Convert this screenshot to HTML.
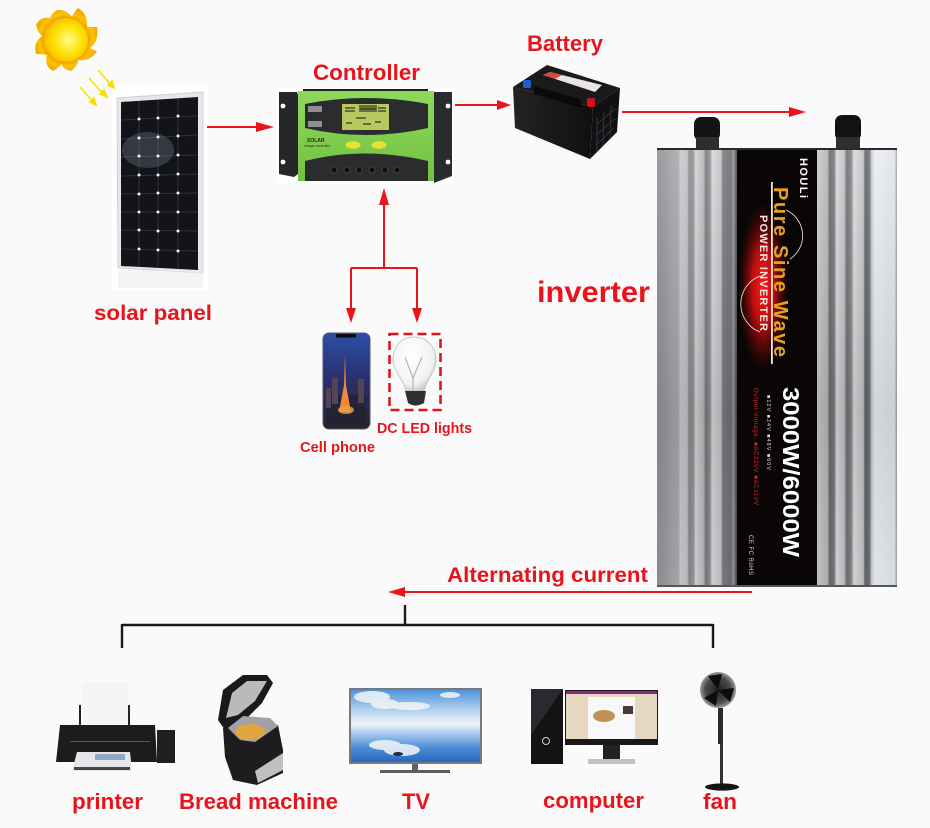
<!DOCTYPE html>
<html><head><meta charset="utf-8"><style>
html,body{margin:0;padding:0;background:#fafafa}
svg{display:block}
.l{font-family:"Liberation Sans",sans-serif;font-weight:700;fill:#e8141c}
.r{font-family:"Liberation Sans",sans-serif}
</style></head><body>
<svg width="930" height="828" viewBox="0 0 930 828" xmlns="http://www.w3.org/2000/svg">
<defs>
<radialGradient id="sun" cx=".55" cy=".5" r=".62"><stop offset="0" stop-color="#fffa8c"/><stop offset=".55" stop-color="#fde000"/><stop offset="1" stop-color="#f4ae00"/></radialGradient>
<radialGradient id="rays" gradientUnits="userSpaceOnUse" cx="66" cy="40" r="33"><stop offset=".6" stop-color="#f08c00"/><stop offset=".8" stop-color="#fbc300"/><stop offset="1" stop-color="#f5a400"/></radialGradient>
<linearGradient id="finL" x1="0" x2="1" y1="0" y2="0">
<stop offset="0" stop-color="#8e9093"/><stop offset=".27" stop-color="#a9abae"/><stop offset=".29" stop-color="#c9cacc"/><stop offset=".38" stop-color="#bfc0c3"/><stop offset=".4" stop-color="#85878a"/><stop offset=".46" stop-color="#96989b"/><stop offset=".48" stop-color="#d2d3d5"/><stop offset=".58" stop-color="#b7b8bb"/><stop offset=".61" stop-color="#76787b"/><stop offset=".66" stop-color="#8b8d90"/><stop offset=".69" stop-color="#d5d6d8"/><stop offset=".8" stop-color="#c2c3c6"/><stop offset=".82" stop-color="#7a7c7f"/><stop offset=".93" stop-color="#6e7074"/><stop offset=".95" stop-color="#98999c"/><stop offset="1" stop-color="#46484a"/></linearGradient>
<linearGradient id="finR" x1="0" x2="1" y1="0" y2="0">
<stop offset="0" stop-color="#c9cacc"/><stop offset=".13" stop-color="#b5b6b9"/><stop offset=".16" stop-color="#66686b"/><stop offset=".22" stop-color="#7c7e81"/><stop offset=".24" stop-color="#d8d9db"/><stop offset=".34" stop-color="#bfc0c3"/><stop offset=".37" stop-color="#6d6f72"/><stop offset=".43" stop-color="#858689"/><stop offset=".46" stop-color="#dadbdd"/><stop offset=".58" stop-color="#c0c1c4"/><stop offset=".6" stop-color="#606266"/><stop offset=".66" stop-color="#73757a"/><stop offset=".68" stop-color="#c8cacd"/><stop offset=".72" stop-color="#e9edf2"/><stop offset=".97" stop-color="#e2e5e8"/><stop offset="1" stop-color="#9a9c9e"/></linearGradient>
<linearGradient id="shade" x1="0" x2="0" y1="0" y2="1"><stop offset="0" stop-color="#fff" stop-opacity=".1"/><stop offset=".6" stop-color="#000" stop-opacity=".1"/><stop offset="1" stop-color="#000" stop-opacity=".04"/></linearGradient>
<radialGradient id="glow"><stop offset="0" stop-color="#ff1a18"/><stop offset=".45" stop-color="#b80e0e"/><stop offset="1" stop-color="#5a0505" stop-opacity="0"/></radialGradient>
<linearGradient id="sky" x1="0" x2="0" y1="0" y2="1"><stop offset="0" stop-color="#4f95dc"/><stop offset=".25" stop-color="#a8cbec"/><stop offset=".47" stop-color="#eef3f8"/><stop offset=".6" stop-color="#a9cbee"/><stop offset=".8" stop-color="#4f8dd6"/><stop offset="1" stop-color="#2468c0"/></linearGradient>
<linearGradient id="phone" x1="0" x2="0" y1="0" y2="1"><stop offset="0" stop-color="#2c4fa8"/><stop offset=".5" stop-color="#2b2f6c"/><stop offset="1" stop-color="#26232c"/></linearGradient>
<radialGradient id="fanG"><stop offset="0" stop-color="#222"/><stop offset=".7" stop-color="#4a4a4c"/><stop offset="1" stop-color="#9a9a9c"/></radialGradient>
<linearGradient id="bat" x1="0" x2="1"><stop offset="0" stop-color="#232325"/><stop offset="1" stop-color="#101012"/></linearGradient>
<linearGradient id="green" x1="0" x2="0" y1="0" y2="1"><stop offset="0" stop-color="#8fd860"/><stop offset="1" stop-color="#72c23e"/></linearGradient>
<radialGradient id="glass" cx=".4" cy=".35" r=".7"><stop offset="0" stop-color="#fff"/><stop offset=".75" stop-color="#f2f2f4"/><stop offset="1" stop-color="#c4c4c8"/></radialGradient>
</defs>
<rect width="930" height="828" fill="#fafafa"/>
<rect x="112" y="85" width="96" height="205" fill="#fff"/>
<rect x="276" y="88" width="178" height="95" fill="#fff"/>

<!-- sun -->
<g>
<path d="M57 10 Q66 9 72 17 Q74 12 78 8 Q88 14 87 27 Q92 27 97 27 Q99 42 90 48 Q93 50 97 51 Q90 62 78 60 Q78 66 71 71 Q62 69 62 64 Q58 68 53 71 Q44 66 47 55 Q42 54 36 54 Q33 42 42 36 Q38 33 36 25 Q41 16 50 18 Q52 13 57 10Z" fill="url(#rays)"/>
<circle cx="66" cy="40" r="22" fill="url(#sun)"/>
<g stroke="#f7e000" stroke-width="1.6" fill="#f7e000">
<path d="M80 87 L94 103" fill="none"/><path d="M89 78 L105 96" fill="none"/><path d="M98 70 L112 86" fill="none"/>
<polygon points="96,105 90,102 94,98"/><polygon points="107,97 100,94 104,90"/><polygon points="114,88 108,85 112,81"/>
</g>
</g>

<!-- solar panel -->
<polygon points="117,98 203,92 203,273 118,268" fill="#e6e7e9" stroke="#cfd0d3"/>
<polygon points="121,102 198,97 198,270 121,266" fill="#12141a"/>
<g stroke="#30333b" stroke-width="1">
<path d="M139 101V267M158 100V268M178 99V269"/>
<path d="M121 120L198 116M121 139L198 135M121 157L198 155M121 176L198 174M121 194L198 193M121 212L198 212M121 230L198 231M121 249L198 251"/>
</g>
<ellipse cx="148" cy="150" rx="26" ry="18" fill="#8d97a8" opacity=".28"/>
<g fill="#f0f0f4">
<circle cx="139" cy="119" r="1.5"/><circle cx="158" cy="118" r="1.5"/><circle cx="178" cy="116" r="1.5"/><circle cx="139" cy="138" r="1.5"/><circle cx="158" cy="137" r="1.5"/><circle cx="178" cy="136" r="1.5"/><circle cx="139" cy="156" r="1.5"/><circle cx="158" cy="156" r="1.5"/><circle cx="178" cy="155" r="1.5"/><circle cx="139" cy="175" r="1.5"/><circle cx="158" cy="175" r="1.5"/><circle cx="178" cy="174" r="1.5"/><circle cx="139" cy="194" r="1.5"/><circle cx="158" cy="193" r="1.5"/><circle cx="178" cy="193" r="1.5"/><circle cx="139" cy="212" r="1.5"/><circle cx="158" cy="212" r="1.5"/><circle cx="178" cy="212" r="1.5"/><circle cx="139" cy="230" r="1.5"/><circle cx="158" cy="231" r="1.5"/><circle cx="178" cy="231" r="1.5"/><circle cx="139" cy="249" r="1.5"/><circle cx="158" cy="250" r="1.5"/><circle cx="178" cy="251" r="1.5"/>
</g>
<rect x="118" y="270" width="85" height="18" fill="#ececee" opacity=".6"/>

<!-- controller -->
<path d="M279 92h18l1 3v79l-4 3-15-3z" fill="#26272a"/>
<path d="M452 92h-18v91l18-7z" fill="#2a2b2e"/>
<rect x="303" y="89" width="125" height="3" fill="#1e1f20"/>
<rect x="298" y="91" width="136" height="90" fill="url(#green)"/>
<path d="M305 104 Q365 92 428 104 V128 Q365 142 305 128Z" fill="#2b2c2d"/>
<rect x="342" y="104" width="47" height="26" fill="#b6c85e"/>
<g stroke="#33361e" stroke-width="1.2" fill="none"><path d="M345 108h10M345 111h10M360 109h16M378 108h8M378 111h8M346 123h6M356 118h10M363 124h8M375 122h6"/></g>
<rect x="359" y="105" width="18" height="7" fill="#3c4022" opacity=".65"/>
<rect x="308" y="106" width="14" height="6" fill="#8f9092"/><rect x="308" y="121" width="14" height="6" fill="#8f9092"/>
<ellipse cx="353" cy="145" rx="7.5" ry="3.8" fill="#e5e234"/><ellipse cx="379" cy="145" rx="7.5" ry="3.8" fill="#e5e234"/>
<path d="M305 161 Q365 146 428 161 V181 H305Z" fill="#2b2c2d"/>
<text class="r" x="307" y="142" font-size="5" font-weight="700" fill="#2a2a20">SOLAR</text>
<text class="r" x="304" y="147" font-size="3.5" fill="#2a2a20">charge controller</text>
<g fill="#0f0f10" stroke="#55565a" stroke-width=".6"><circle cx="334" cy="170" r="3"/><circle cx="347" cy="170" r="3"/><circle cx="359" cy="170" r="3"/><circle cx="372" cy="170" r="3"/><circle cx="385" cy="170" r="3"/><circle cx="397" cy="170" r="3"/></g>
<g fill="#fff"><circle cx="283" cy="106" r="2.4"/><circle cx="283" cy="162" r="2.4"/><circle cx="448" cy="106" r="2.4"/><circle cx="448" cy="162" r="2.4"/></g>

<!-- battery -->
<polygon points="513,87 547,65 620,88 593,107" fill="#1a1a1c"/>
<polygon points="513,87 593,107 590,159 515,128" fill="url(#bat)"/>
<polygon points="593,107 620,88 617,132 590,159" fill="#111114"/>
<polygon points="543,75 550,72 602,85 595,92" fill="#eae4e2"/>
<polygon points="543,75 550,72 562,75 555,79" fill="#d24a40"/>
<polygon points="534,86 580,99 582,108 534,94" fill="#0a0a0c"/>
<g stroke="#333338" stroke-width="1"><path d="M597 117L597 152M604 111L603 146M611 105L610 139M596 125L615 109M596 135L615 119M596 145L614 128"/></g>
<rect x="523" y="80" width="8" height="8" rx="2" fill="#1c5fd0"/>
<rect x="587" y="98" width="8" height="9" rx="2" fill="#d80f15"/>

<!-- inverter -->
<rect x="694" y="117" width="26" height="24" rx="7" fill="#141416"/>
<rect x="696" y="137" width="23" height="13" fill="#2e2e30"/>
<rect x="835" y="115" width="26" height="26" rx="7" fill="#151112"/>
<rect x="836" y="137" width="24" height="13" fill="#2e2e30"/>
<rect x="657" y="149" width="80" height="438" fill="url(#finL)"/>
<rect x="817" y="149" width="80" height="438" fill="url(#finR)"/>
<rect x="657" y="149" width="240" height="438" fill="url(#shade)"/>
<rect x="737" y="149" width="80" height="438" fill="#0a0606"/>
<ellipse cx="763" cy="287" rx="25" ry="85" fill="url(#glow)"/>
<rect x="657" y="148" width="240" height="2" fill="#2a2a2c"/>
<rect x="657" y="585" width="240" height="2" fill="#55565a"/>
<rect x="771" y="182" width="1.8" height="182" fill="#efe9dc"/>
<path d="M786 210 A28 28 0 0 1 790 259" fill="none" stroke="#eee" stroke-width=".8"/>
<path d="M760 276 A30 30 0 0 0 760 332" fill="none" stroke="#eee" stroke-width=".8"/>
<text class="r" transform="translate(774,187) rotate(90)" font-size="20" font-weight="700" fill="#e8a020" textLength="170" lengthAdjust="spacing">Pure Sine Wave</text>
<text class="r" transform="translate(760,215) rotate(90)" font-size="11" font-weight="700" fill="#f4e8e0" textLength="116" lengthAdjust="spacing">POWER INVERTER</text>
<text class="r" transform="translate(800,158) rotate(90)" font-size="11" font-weight="700" fill="#fff" textLength="40" lengthAdjust="spacing">HOULi</text>
<text class="r" transform="translate(783,387) rotate(90)" font-size="23" font-weight="700" fill="#fff" textLength="170" lengthAdjust="spacingAndGlyphs">3000W/6000W</text>
<text class="r" transform="translate(754,388) rotate(90)" font-size="6" fill="#d92a28" textLength="117">Output Voltage: ■AC220V ■AC110V</text>
<text class="r" transform="translate(767,395) rotate(90)" font-size="5.5" fill="#ddd" textLength="75">■12V  ■24V  ■48V  ■60V</text>
<text class="r" transform="translate(749,535) rotate(90)" font-size="6" fill="#ddd" textLength="40">CE FC RoHS</text>

<!-- arrows -->
<g stroke="#e8141c" stroke-width="2" fill="none">
<path d="M207 127H260"/>
<path d="M455 105H500"/>
<path d="M622 112H792"/>
<path d="M752 592H402"/>
<path d="M384 268V200M351 268H417M351 268V312M417 268V312"/>
</g>
<g fill="#e8141c">
<polygon points="274,127 256,122 256,132"/>
<polygon points="511,105 497,100 497,110"/>
<polygon points="806,112 789,107 789,117"/>
<polygon points="388,592 405,587 405,597"/>
<polygon points="384,188 379,205 389,205"/>
<polygon points="351,323 346,308 356,308"/>
<polygon points="417,323 412,308 422,308"/>
</g>
<g stroke="#1a1a1a" stroke-width="2.4" fill="none"><path d="M405 605V625M122 625H713M122 624V648M713 624V648"/></g>

<!-- phone -->
<rect x="323" y="333" width="47" height="96" rx="6" fill="url(#phone)" stroke="#555a6a"/>
<rect x="336" y="334" width="20" height="3.5" fill="#0c0c10"/>
<path d="M326 395h40v30h-40z" fill="#232130" opacity=".75"/>
<g fill="#554458"><rect x="332" y="378" width="6" height="26"/><rect x="358" y="379" width="6" height="24"/><rect x="326" y="388" width="5" height="20"/></g>
<polygon points="345,355 346,385 351,412 339,412 344,385" fill="#f0893a"/>
<ellipse cx="346" cy="410" rx="8" ry="4" fill="#eaa040" opacity=".8"/>

<!-- bulb -->
<path d="M414 337 C400 337 392 349 393 361 C394 372 403 378 406 391 H424 C427 378 436 372 436 360 C436 348 428 337 414 337Z" fill="url(#glass)" stroke="#bcbcc0" stroke-width=".8"/>
<path d="M405 357 L413 378 L422 357 M413 378V392" fill="none" stroke="#a8a8ac"/>
<path d="M405 391H426L424 403Q415 408 408 403Z" fill="#303032"/>
<rect x="389.500" y="334" width="51" height="76" fill="none" stroke="#e0141c" stroke-width="2.6" stroke-dasharray="9 5"/>

<!-- printer -->
<rect x="83" y="682" width="45" height="42" fill="#f5f5f6"/>
<rect x="79" y="705" width="2" height="20" fill="#222"/><rect x="128" y="705" width="2" height="20" fill="#222"/>
<path d="M60 725H155L157 762H56Z" fill="#1c1c1e"/>
<rect x="157" y="730" width="18" height="33" fill="#202023"/>
<rect x="70" y="741" width="80" height="1" fill="#565658"/>
<polygon points="77,752 130,752 132,771 72,771" fill="#e4e6ea"/>
<rect x="95" y="754" width="30" height="6" fill="#8fa9c4"/>
<rect x="74" y="767" width="56" height="3" fill="#40484e"/>

<!-- bread machine -->
<polygon points="218,720 223,690 243,675 267,675 273,683 262,703 243,722 225,730" fill="#191a1c"/>
<polygon points="226,718 232,693 247,681 267,681 255,701 238,715" fill="#b9babc"/>
<polygon points="223,728 278,725 283,750 283,773 257,785 233,780 225,757" fill="#1d1d1f"/>
<polygon points="228,728 243,716 270,718 278,726 255,742 240,740" fill="#a2a2a4"/>
<ellipse cx="250" cy="732" rx="15" ry="8" fill="#e2a43c"/>
<polygon points="255,771 283,753 283,770 258,783" fill="#bfc0c2"/>

<!-- TV -->
<rect x="349" y="688" width="133" height="76" fill="#77797c"/>
<rect x="351" y="690" width="129" height="72" fill="url(#sky)"/>
<g fill="#f4f6f8" opacity=".85"><ellipse cx="372" cy="697" rx="18" ry="6"/><ellipse cx="385" cy="704" rx="14" ry="5"/><ellipse cx="410" cy="706" rx="20" ry="4"/><ellipse cx="450" cy="695" rx="10" ry="3"/><ellipse cx="385" cy="745" rx="16" ry="5"/><ellipse cx="402" cy="750" rx="18" ry="6"/></g>
<ellipse cx="398" cy="754" rx="5" ry="2" fill="#1c2c44"/>
<rect x="412" y="764" width="6" height="6" fill="#606264"/>
<rect x="380" y="770" width="70" height="3" fill="#5c5e60"/>

<!-- computer -->
<rect x="531" y="689" width="32" height="75" fill="#131315"/>
<polygon points="531,689 563,689 531,735" fill="#2a2a2e"/>
<circle cx="546" cy="741" r="3.500" fill="none" stroke="#d0d0d2"/>
<rect x="565" y="690" width="93" height="55" fill="#18181a"/>
<rect x="566" y="691" width="91" height="48" fill="#e6d7c0"/>
<rect x="566" y="691" width="91" height="3" fill="#8c2a82"/>
<rect x="588" y="697" width="47" height="42" fill="#f8f8f8"/>
<ellipse cx="604" cy="716" rx="11" ry="6" fill="#c09058"/>
<rect x="623" y="706" width="10" height="8" fill="#4a3a34"/>
<rect x="603" y="745" width="17" height="14" fill="#222"/>
<rect x="588" y="759" width="47" height="5" fill="#c2c2c4"/>

<!-- fan -->
<circle cx="718" cy="690" r="18" fill="url(#fanG)"/>
<path d="M718 690L708 676 L722 674Z M718 690L734 688 L730 702Z M718 690L716 706 L704 698Z" fill="#0d0d0d"/>
<rect x="718" y="708" width="5" height="36" fill="#2b2b2d"/>
<rect x="720" y="744" width="3" height="40" fill="#333"/>
<ellipse cx="722" cy="787" rx="17" ry="3.600" fill="#141416"/>

<!-- labels -->
<text class="l" x="313" y="80" font-size="22" textLength="107" lengthAdjust="spacingAndGlyphs">Controller</text>
<text class="l" x="527" y="51" font-size="22" textLength="76" lengthAdjust="spacingAndGlyphs">Battery</text>
<text class="l" x="537" y="302" font-size="30" textLength="113" lengthAdjust="spacingAndGlyphs">inverter</text>
<text class="l" x="94" y="320" font-size="21" textLength="118" lengthAdjust="spacingAndGlyphs">solar panel</text>
<text class="l" x="300" y="452" font-size="14.500" textLength="75" lengthAdjust="spacingAndGlyphs">Cell phone</text>
<text class="l" x="377" y="433" font-size="14.500" textLength="95" lengthAdjust="spacingAndGlyphs">DC LED lights</text>
<text class="l" x="447" y="582" font-size="21" textLength="201" lengthAdjust="spacingAndGlyphs">Alternating current</text>
<text class="l" x="72" y="809" font-size="22" textLength="71" lengthAdjust="spacingAndGlyphs">printer</text>
<text class="l" x="179" y="809" font-size="22" textLength="159" lengthAdjust="spacingAndGlyphs">Bread machine</text>
<text class="l" x="402" y="809" font-size="22" textLength="28" lengthAdjust="spacingAndGlyphs">TV</text>
<text class="l" x="543" y="808" font-size="22" textLength="101" lengthAdjust="spacingAndGlyphs">computer</text>
<text class="l" x="703" y="809" font-size="22" textLength="34" lengthAdjust="spacingAndGlyphs">fan</text>
</svg>
</body></html>
